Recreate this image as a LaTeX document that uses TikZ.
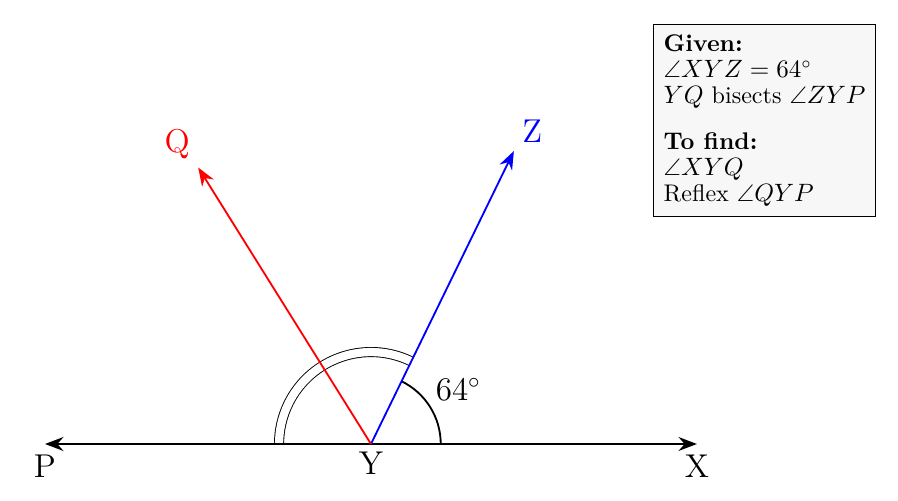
\documentclass[tikz,border=0pt]{standalone}
\usepackage{amssymb}
\usepackage{amsmath}
\usetikzlibrary{arrows.meta}

\begin{document}
\begin{tikzpicture}[
        seta/.style={-{Stealth[length=8pt,width=6pt]}},
        rotulo/.style={font=\Large}]
        % Moldura da figura
        \useasboundingbox (-5.69,-0.874) rectangle (8.083,6.810);
        % Pontos
        \coordinate (Y) at (0,0);
        \coordinate (X) at (0:5);
        \coordinate (P) at (180:5);
        \coordinate (Z) at (64:5);
        \coordinate (Q) at (122:5);
        % Arcos dos angulos
        \draw[thick] (0:1.07) arc (0:64:1.07);
        \draw[double, double distance=3.6pt] (64:1.41) arc (64:180:1.41);
        \node[rotulo] (ang) at (32:1.58) {$64^\circ$};
        % Reta PX
        \draw[seta, very thick] (Y) -- (X) node[rotulo, below=1pt] (lX) {X};
        \draw[seta, very thick] (Y) -- (P) node[rotulo, below=1pt] (lP) {P};
        % Semirretas YZ e YQ
        \draw[seta, thick, blue] (Y) -- (Z) node[rotulo, above right] (lZ) {Z};
        \draw[seta, thick, red] (Y) -- (Q) node[rotulo, above left] (lQ) {Q};
        \node[rotulo, below=0pt] (lY) at (Y) {Y};
        % Quadro com os dados
        \node[draw, fill=black!3, align=left, anchor=north west, inner sep=4.5pt,
              font=\fontsize{10.5}{11.3}\selectfont] (dados) at (4.325,6.442)
              {\textbf{Given:}\\
               $\angle XYZ = 64^\circ$\\
               $YQ$ bisects $\angle ZYP$\\[9pt]
               \textbf{To find:}\\
               $\angle XYQ$\\
               Reflex $\angle QYP$};
\end{tikzpicture}
\end{document}
